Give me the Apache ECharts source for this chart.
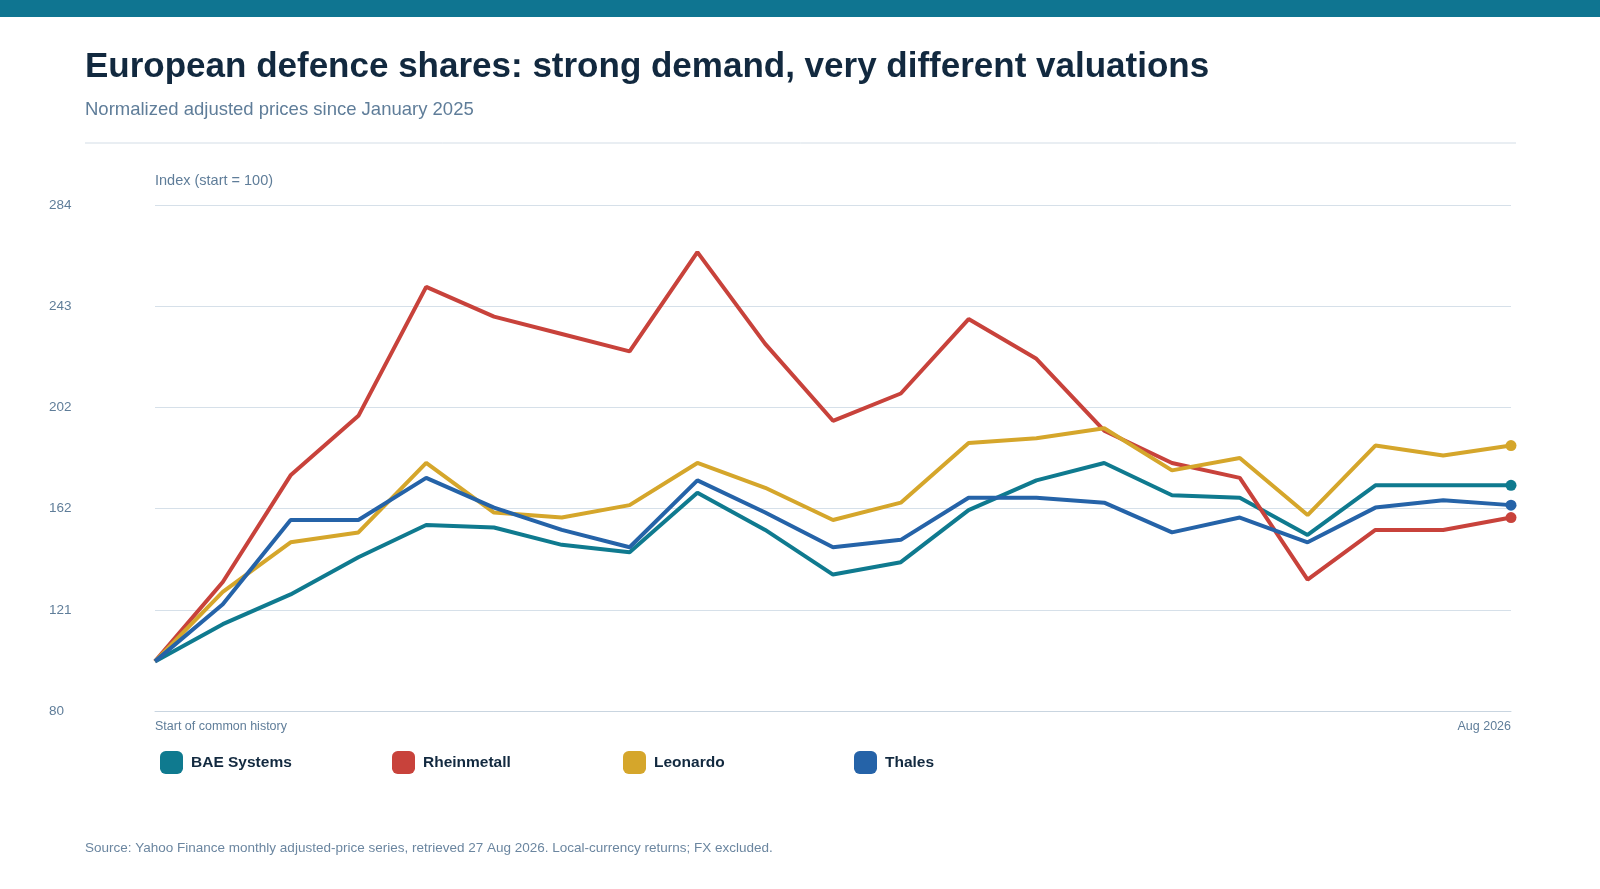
<!DOCTYPE html>
<html>
<head>
<meta charset="utf-8">
<script src="https://cdn.jsdelivr.net/npm/echarts@6/dist/echarts.min.js"></script>
<style>
html, body { margin: 0; padding: 0; background: #fff; }
#chart { width: 1600px; height: 889px; }
</style>
</head>
<body>
<div id="chart"></div>
<script>
var months = ['Start of common history', 'M2', 'M3', 'M4', 'M5', 'M6', 'M7', 'M8', 'M9', 'M10',
              'M11', 'M12', 'M13', 'M14', 'M15', 'M16', 'M17', 'M18', 'M19', 'M20', 'Aug 2026'];

var bae         = [100, 115, 127, 142, 155, 154, 147, 144, 168, 153, 135, 140, 161, 173, 180, 167, 166, 151, 171, 171, 171];
var rheinmetall = [100, 132, 175, 199, 251, 239, 232, 225, 265, 228, 197, 208, 238, 222, 193, 180, 174, 133, 153, 153, 158];
var leonardo    = [100, 128, 148, 152, 180, 160, 158, 163, 180, 170, 157, 164, 188, 190, 194, 177, 182, 159, 187, 183, 187];
var thales      = [100, 123, 157, 157, 174, 162, 153, 146, 173, 160, 146, 149, 166, 166, 164, 152, 158, 148, 162, 165, 163];

var yBase = 80;
var yStep = 40.8;   // ticks 80, 121, 162, 202, 243, 284

var seriesDefs = [
    { name: 'BAE Systems', color: '#0f7a8f', data: bae },
    { name: 'Rheinmetall', color: '#c8423b', data: rheinmetall },
    { name: 'Leonardo',    color: '#d5a62b', data: leonardo },
    { name: 'Thales',      color: '#2563a8', data: thales }
];
var legendLeft = [155, 387, 618, 849];

// values are plotted relative to the axis base so ticks start at 0
function shift(arr) {
    return arr.map(function (v, i) {
        var item = { value: v - yBase };
        if (i === arr.length - 1) {
            item.symbol = 'circle';
            item.symbolSize = 11;
        }
        return item;
    });
}

var chart = echarts.init(document.getElementById('chart'));

var option = {
    animation: false,
    textStyle: { fontFamily: 'Arial, "Liberation Sans", sans-serif' },
    grid: { left: 155, right: 89, top: 205, bottom: 178 },
    graphic: [
        { type: 'rect', shape: { x: 0, y: 0, width: 1600, height: 17 }, style: { fill: '#0f7591' } },
        { type: 'text', left: 85, top: 50, style: { text: 'European defence shares: strong demand, very different valuations', font: 'bold 35px Arial, "Liberation Sans", sans-serif', fill: '#12293f' } },
        { type: 'text', left: 85, top: 100, style: { text: 'Normalized adjusted prices since January 2025', font: '18.5px Arial, "Liberation Sans", sans-serif', fill: '#5f7d99' } },
        { type: 'line', shape: { x1: 85, y1: 143, x2: 1516, y2: 143 }, style: { stroke: '#d3dde6', lineWidth: 1 } },
        { type: 'text', left: 155, top: 173, style: { text: 'Index (start = 100)', font: '14.5px Arial, "Liberation Sans", sans-serif', fill: '#5f7d99' } },
        { type: 'text', left: 85, top: 841, style: { text: 'Source: Yahoo Finance monthly adjusted-price series, retrieved 27 Aug 2026. Local-currency returns; FX excluded.', font: '13.5px Arial, "Liberation Sans", sans-serif', fill: '#6b86a0' } }
    ],
    legend: seriesDefs.map(function (s, i) {
        return {
            left: legendLeft[i],
            top: 746,
            itemWidth: 23,
            itemHeight: 23,
            itemGap: 0,
            icon: 'roundRect',
            textStyle: { fontSize: 15.5, fontWeight: 'bold', color: '#12293f', padding: [0, 0, 0, 3] },
            data: [s.name]
        };
    }),
    xAxis: {
        type: 'category',
        boundaryGap: false,
        data: months,
        axisLine: { lineStyle: { color: '#c9d5e0' } },
        axisTick: { show: false },
        axisLabel: {
            interval: 0,
            color: '#5f7d99',
            fontSize: 12.5,
            margin: 9,
            alignMinLabel: 'left',
            alignMaxLabel: 'right',
            formatter: function (v, i) {
                return (i === 0 || i === months.length - 1) ? v : '';
            }
        }
    },
    yAxis: {
        type: 'value',
        min: 0,
        max: yStep * 5,
        interval: yStep,
        axisLine: { show: false },
        axisTick: { show: false },
        splitLine: { lineStyle: { color: '#d6e0e9' } },
        axisLabel: {
            color: '#5f7d99',
            fontSize: 13.5,
            align: 'left',
            margin: 106,
            formatter: function (v) { return Math.round(v + yBase); }
        }
    },
    series: seriesDefs.map(function (s) {
        return {
            name: s.name,
            type: 'line',
            symbol: 'none',
            showSymbol: true,
            color: s.color,
            lineStyle: { width: 4, color: s.color },
            itemStyle: { color: s.color },
            data: shift(s.data)
        };
    })
};

chart.setOption(option);
</script>
</body>
</html>
